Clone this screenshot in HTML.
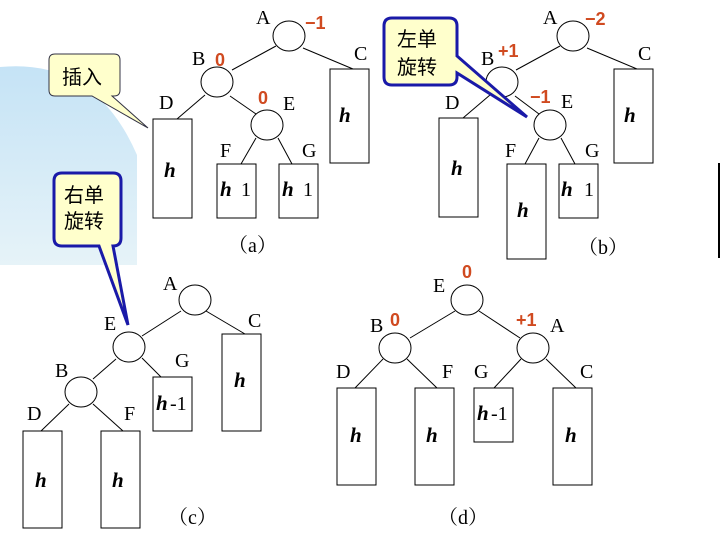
<!DOCTYPE html>
<html><head><meta charset="utf-8"><style>
html,body{margin:0;padding:0;background:#fff;width:720px;height:540px;overflow:hidden}
svg text{font-family:"Liberation Serif","Noto Serif CJK SC",serif}
.l{font-size:20px;fill:#000}
.h{font-size:21px;font-style:italic;font-weight:bold;fill:#000}
.n{font-size:20px;fill:#000}
.r{font-family:"Liberation Sans",sans-serif!important;font-size:18px;font-weight:bold;fill:#d04a20}
.cj{font-family:"Liberation Sans","Noto Sans CJK SC",sans-serif!important;font-size:20px;fill:#000}
</style></head><body>
<svg width="720" height="540" viewBox="0 0 720 540" xmlns="http://www.w3.org/2000/svg">
<defs><linearGradient id="g" x1="0" y1="0" x2="0" y2="1"><stop offset="0" stop-color="#c5e3f6"/><stop offset="1" stop-color="#e6f3f8"/></linearGradient></defs>
<path d="M0,67 Q95,58 137,155 L137,265 L0,265 Z" fill="url(#g)"/>
<g stroke="#000" stroke-width="1" fill="#fff">
<line x1="276" y1="46" x2="232" y2="70"/><line x1="303" y1="48" x2="353" y2="69"/>
<line x1="205" y1="95" x2="177" y2="119"/><line x1="230" y1="96" x2="256" y2="114"/>
<line x1="256" y1="138" x2="241" y2="164"/><line x1="278" y1="138" x2="292" y2="164"/>
<ellipse cx="289" cy="36" rx="16" ry="15"/><ellipse cx="217" cy="82" rx="16" ry="15"/><ellipse cx="267" cy="125" rx="16" ry="15"/>
<rect x="153" y="119" width="39" height="99"/><rect x="217" y="164" width="39" height="54"/><rect x="279" y="164" width="39" height="54"/><rect x="330" y="69" width="39" height="94"/>
<line x1="560" y1="46" x2="516" y2="70"/><line x1="587" y1="48" x2="637" y2="69"/>
<line x1="490" y1="95" x2="463" y2="118"/><line x1="515" y1="96" x2="539" y2="114"/>
<line x1="539" y1="138" x2="525" y2="164"/><line x1="561" y1="138" x2="575" y2="164"/>
<ellipse cx="573" cy="36" rx="16" ry="15"/><ellipse cx="502" cy="82" rx="16" ry="15"/><ellipse cx="550" cy="125" rx="16" ry="15"/>
<rect x="439" y="118" width="39" height="99"/><rect x="507" y="164" width="39" height="95"/><rect x="559" y="164" width="39" height="54"/><rect x="614" y="69" width="39" height="94"/>
<line x1="719" y1="163" x2="719" y2="258" stroke-width="2"/>
<line x1="181" y1="311" x2="142" y2="336"/><line x1="206" y1="311" x2="245" y2="334"/>
<line x1="116" y1="359" x2="93" y2="379"/><line x1="142" y1="358" x2="161" y2="377"/>
<line x1="69" y1="404" x2="41" y2="431"/><line x1="93" y1="404" x2="123" y2="431"/>
<ellipse cx="195" cy="300" rx="16" ry="15"/><ellipse cx="129" cy="347" rx="16" ry="15"/><ellipse cx="81" cy="392" rx="16" ry="15"/>
<rect x="23" y="431" width="39" height="97"/><rect x="101" y="431" width="39" height="97"/><rect x="153" y="377" width="39" height="54"/><rect x="222" y="334" width="39" height="97"/>
<line x1="455" y1="311" x2="410" y2="338"/><line x1="479" y1="311" x2="520" y2="338"/>
<line x1="383" y1="359" x2="355" y2="388"/><line x1="407" y1="359" x2="437" y2="388"/>
<line x1="521" y1="359" x2="494" y2="388"/><line x1="546" y1="359" x2="576" y2="388"/>
<ellipse cx="467" cy="300" rx="16" ry="15"/><ellipse cx="395" cy="348" rx="16" ry="15"/><ellipse cx="533" cy="348" rx="16" ry="15"/>
<rect x="337" y="388" width="39" height="97"/><rect x="415" y="388" width="39" height="97"/><rect x="474" y="388" width="39" height="54"/><rect x="553" y="388" width="39" height="97"/>
</g>
<path d="M55,54 H114 Q120,54 120,60 V90 Q120,96 114,96 H112 L148,128 L92,96 H55 Q49,96 49,90 V60 Q49,54 55,54 Z" fill="#ffffcc" stroke="#334" stroke-width="1"/>
<text x="62" y="84" class="cj">插入</text>
<path d="M62,173 H113 Q121,173 121,181 V238 Q121,246 113,246 H113 L128,325 L99,246 H62 Q54,246 54,238 V181 Q54,173 62,173 Z" fill="#ffffcc" stroke="#1a1aa8" stroke-width="3"/>
<text x="64" y="202" class="cj">右单</text><text x="64" y="228" class="cj">旋转</text>
<path d="M392,18 H449 Q457,18 457,26 V56 L527,117 L457,73 V77 Q457,85 449,85 H392 Q384,85 384,77 V26 Q384,18 392,18 Z" fill="#ffffcc" stroke="#1a1aa8" stroke-width="3"/>
<text x="397" y="46" class="cj">左单</text><text x="397" y="74" class="cj">旋转</text>
<text x="256" y="24" class="l">A</text><text x="305" y="29" class="r">−1</text>
<text x="192" y="65" class="l">B</text><text x="215" y="66" class="r">0</text>
<text x="283" y="110" class="l">E</text><text x="258" y="104" class="r">0</text>
<text x="159" y="109" class="l">D</text><text x="220" y="157" class="l">F</text><text x="302" y="157" class="l">G</text><text x="354" y="60" class="l">C</text>
<text x="164" y="177" class="h">h</text><text x="220" y="196" class="h">h</text><text x="241" y="196" class="n">1</text>
<text x="282" y="196" class="h">h</text><text x="303" y="196" class="n">1</text><text x="339" y="122" class="h">h</text>
<text x="228" y="252" class="n">（a）</text>
<text x="543" y="24" class="l">A</text><text x="585" y="25" class="r">−2</text>
<text x="481" y="65" class="l">B</text><text x="498" y="57" class="r">+1</text>
<text x="561" y="108" class="l">E</text><text x="530" y="103" class="r">−1</text>
<text x="445" y="109" class="l">D</text><text x="505" y="157" class="l">F</text><text x="585" y="157" class="l">G</text><text x="638" y="60" class="l">C</text>
<text x="451" y="175" class="h">h</text><text x="517" y="217" class="h">h</text><text x="561" y="196" class="h">h</text><text x="584" y="196" class="n">1</text><text x="624" y="122" class="h">h</text>
<text x="578" y="254" class="n">（b）</text>
<text x="163" y="290" class="l">A</text><text x="104" y="330" class="l">E</text><text x="55" y="377" class="l">B</text>
<text x="27" y="420" class="l">D</text><text x="124" y="420" class="l">F</text><text x="175" y="367" class="l">G</text><text x="248" y="327" class="l">C</text>
<text x="35" y="487" class="h">h</text><text x="112" y="487" class="h">h</text><text x="156" y="410" class="h">h</text><text x="170" y="410" class="n">-1</text><text x="234" y="387" class="h">h</text>
<text x="168" y="524" class="n">（c）</text>
<text x="433" y="292" class="l">E</text><text x="462" y="278" class="r">0</text>
<text x="370" y="332" class="l">B</text><text x="390" y="326" class="r">0</text>
<text x="550" y="332" class="l">A</text><text x="516" y="326" class="r">+1</text>
<text x="336" y="378" class="l">D</text><text x="442" y="378" class="l">F</text><text x="474" y="378" class="l">G</text><text x="580" y="378" class="l">C</text>
<text x="350" y="442" class="h">h</text><text x="426" y="442" class="h">h</text><text x="477" y="420" class="h">h</text><text x="491" y="420" class="n">-1</text><text x="565" y="442" class="h">h</text>
<text x="438" y="524" class="n">（d）</text>
</svg>
</body></html>
